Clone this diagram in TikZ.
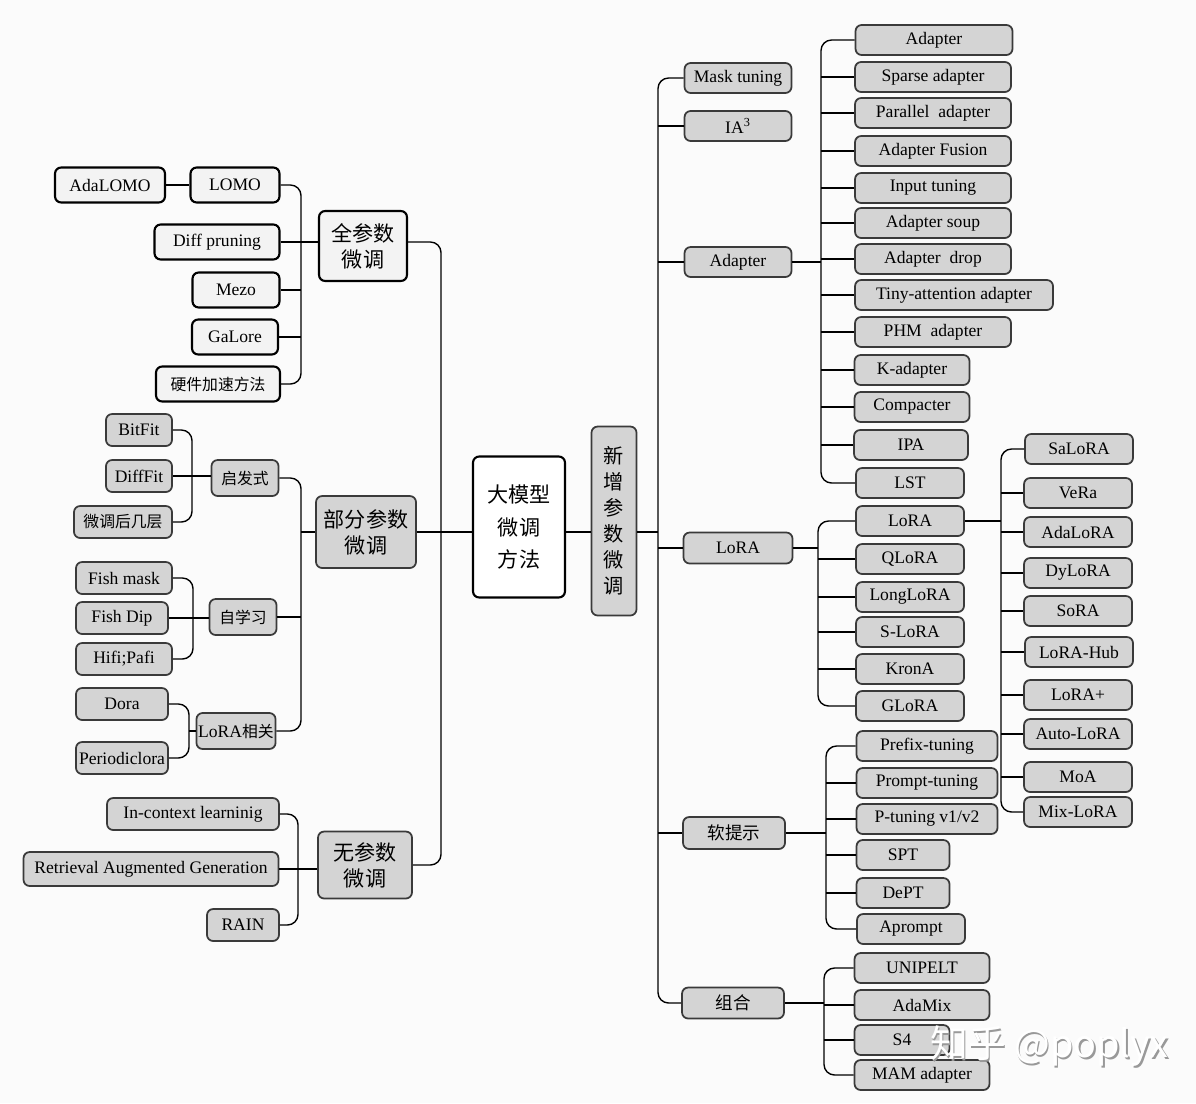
\documentclass[tikz,border=0pt]{standalone}
\usepackage{fontspec}
\setmainfont{Liberation Serif}
\newfontfamily\cjk{Noto Sans CJK SC}
\usepackage{tikz}
\definecolor{paper}{RGB}{251,251,251}
\definecolor{boxgray}{RGB}{212,212,212}
\definecolor{boxline}{RGB}{58,58,58}
\definecolor{boxwhite}{RGB}{243,243,243}

\begin{document}
\begin{tikzpicture}[x=0.02cm, y=-0.02cm,
    leaf/.style={draw=boxline, fill=boxgray, line width=1pt, rounded corners=3.5pt, minimum height=0.6cm, inner sep=1pt, font=\fontsize{10}{12}\selectfont},
    wleaf/.style={leaf, draw=black, fill=boxwhite, line width=1.2pt},
    hub/.style={align=center, font=\cjk\fontsize{12}{14.8}\selectfont},
    zh/.style={font=\cjk\fontsize{9}{11}\selectfont},
    link/.style={line width=0.8pt, rounded corners=6pt}]
    \fill[paper] (0,0) rectangle (1196,1103);
    \useasboundingbox (0,0) rectangle (1196,1103);

    % bus lines
    \coordinate (fullbus) at (301,0);
    \coordinate (partbus) at (301,0);
    \coordinate (heurbus) at (192,0);
    \coordinate (selfbus) at (193,0);
    \coordinate (lrbus) at (189,0);
    \coordinate (nonebus) at (298,0);
    \coordinate (ltrunk) at (441,0);
    \coordinate (rtrunk) at (658,0);
    \coordinate (adbus) at (821,0);
    \coordinate (lorabus) at (818,0);
    \coordinate (lvbus) at (1001,0);
    \coordinate (softbus) at (826,0);
    \coordinate (combobus) at (824,0);

    % centre
    \node[wleaf, hub, fill=white, minimum width=1.84cm, minimum height=2.82cm, font=\cjk\fontsize{12}{18.5}\selectfont] (core) at (519,527) {大模型\\微调\\方法};
    \node[leaf, hub, minimum width=0.9cm, minimum height=3.78cm, font=\cjk\fontsize{11.5}{14.8}\selectfont] (newp) at (614,521) {新\\增\\参\\数\\微\\调};

    % full parameter tuning
    \node[wleaf, hub, minimum width=1.76cm, minimum height=1.4cm] (full) at (363,246) {全参数\\微调};
    \node[wleaf, minimum width=2.2cm, minimum height=0.7cm] (adalomo) at (110,185) {AdaLOMO};
    \node[wleaf, minimum width=1.78cm, minimum height=0.7cm] (lomo) at (235,185) {LOMO};
    \node[wleaf, minimum width=2.5cm, minimum height=0.7cm] (diffp) at (217,242) {Diff pruning};
    \node[wleaf, minimum width=1.74cm, minimum height=0.7cm] (mezo) at (236,290) {Mezo};
    \node[wleaf, minimum width=1.72cm, minimum height=0.7cm] (galore) at (235,337) {GaLore};
    \node[wleaf, zh, minimum width=2.48cm, minimum height=0.7cm] (hwacc) at (218,384) {硬件加速方法};

    % partial parameter tuning
    \node[leaf, hub, minimum width=2cm, minimum height=1.44cm] (part) at (366,532) {部分参数\\微调};
    \node[leaf, zh, minimum width=1.34cm, minimum height=0.72cm] (heur) at (245,478) {启发式};
    \node[leaf, zh, minimum width=1.34cm, minimum height=0.72cm] (selfl) at (243,617) {自学习};
    \node[leaf, minimum width=1.58cm, minimum height=0.72cm] (lorarel) at (236,731) {LoRA{\cjk\fontsize{9}{11}\selectfont 相关}};
    \node[leaf, minimum width=1.32cm, minimum height=0.64cm] (bitfit) at (139,430) {BitFit};
    \node[leaf, minimum width=1.32cm, minimum height=0.64cm] (difffit) at (139,476) {DiffFit};
    \node[leaf, zh, minimum width=1.96cm, minimum height=0.64cm] (lastl) at (123,522) {微调后几层};
    \node[leaf, minimum width=1.92cm, minimum height=0.64cm] (fmask) at (124,578) {Fish mask};
    \node[leaf, minimum width=1.84cm, minimum height=0.64cm] (fdip) at (122,618) {Fish Dip};
    \node[leaf, minimum width=1.92cm, minimum height=0.64cm] (hifi) at (124,659) {Hifi;Pafi};
    \node[leaf, minimum width=1.84cm, minimum height=0.64cm] (dora) at (122,704) {Dora};
    \node[leaf, minimum width=1.84cm, minimum height=0.64cm] (periodic) at (122,758) {Periodiclora};

    % no parameter tuning
    \node[leaf, hub, minimum width=1.88cm, minimum height=1.34cm] (none) at (365,865) {无参数\\微调};
    \node[leaf, minimum width=3.44cm, minimum height=0.64cm] (icl) at (193,814) {In-context learninig};
    \node[leaf, minimum width=5.1cm, minimum height=0.68cm] (rag) at (151,869) {Retrieval Augmented Generation};
    \node[leaf, minimum width=1.44cm, minimum height=0.64cm] (rain) at (243,925) {RAIN};

    % added parameter tuning, first level
    \node[leaf, minimum width=2.14cm] (mask) at (738,78) {Mask tuning};
    \node[leaf, minimum width=2.14cm] (ia3) at (738,126) {IA\textsuperscript{3}};
    \node[leaf, minimum width=2.14cm] (adapt) at (738,262) {Adapter};
    \node[leaf, minimum width=2.18cm, minimum height=0.62cm] (lora) at (738,548) {LoRA};
    \node[leaf, zh, font=\cjk\fontsize{10}{12}\selectfont, minimum width=2.04cm, minimum height=0.64cm] (soft) at (734,833) {软提示};
    \node[leaf, zh, font=\cjk\fontsize{10}{12}\selectfont, minimum width=2.04cm, minimum height=0.62cm] (combo) at (733,1003) {组合};

    % adapter family
    \node[leaf, minimum width=3.14cm] (a1) at (934,40) {Adapter};
    \node[leaf, minimum width=3.12cm] (a2) at (933,77) {Sparse adapter};
    \node[leaf, minimum width=3.12cm] (a3) at (933,113) {Parallel\ \ adapter};
    \node[leaf, minimum width=3.12cm] (a4) at (933,151) {Adapter Fusion};
    \node[leaf, minimum width=3.12cm] (a5) at (933,188) {Input tuning};
    \node[leaf, minimum width=3.12cm] (a6) at (933,223) {Adapter soup};
    \node[leaf, minimum width=3.12cm] (a7) at (933,259) {Adapter\ \ drop};
    \node[leaf, minimum width=3.96cm] (a8) at (954,295) {Tiny-attention adapter};
    \node[leaf, minimum width=3.12cm] (a9) at (933,332) {PHM\ \ adapter};
    \node[leaf, minimum width=2.3cm] (a10) at (912,370) {K-adapter};
    \node[leaf, minimum width=2.3cm] (a11) at (912,407) {Compacter};
    \node[leaf, minimum width=2.28cm] (a12) at (911,445) {IPA};
    \node[leaf, minimum width=2.16cm] (a13) at (910,483) {LST};

    % lora family
    \node[leaf, minimum width=2.16cm] (l1) at (910,521) {LoRA};
    \node[leaf, minimum width=2.16cm] (l2) at (910,559) {QLoRA};
    \node[leaf, minimum width=2.16cm] (l3) at (910,597) {LongLoRA};
    \node[leaf, minimum width=2.16cm] (l4) at (910,632) {S-LoRA};
    \node[leaf, minimum width=2.16cm] (l5) at (910,669) {KronA};
    \node[leaf, minimum width=2.16cm] (l6) at (910,706) {GLoRA};

    \node[leaf, minimum width=2.16cm] (v1) at (1079,449) {SaLoRA};
    \node[leaf, minimum width=2.16cm] (v2) at (1078,493) {VeRa};
    \node[leaf, minimum width=2.16cm] (v3) at (1078,532) {AdaLoRA};
    \node[leaf, minimum width=2.16cm] (v4) at (1078,573) {DyLoRA};
    \node[leaf, minimum width=2.16cm] (v5) at (1078,611) {SoRA};
    \node[leaf, minimum width=2.16cm] (v6) at (1079,652) {LoRA-Hub};
    \node[leaf, minimum width=2.16cm] (v7) at (1078,695) {LoRA+};
    \node[leaf, minimum width=2.16cm] (v8) at (1078,734) {Auto-LoRA};
    \node[leaf, minimum width=2.16cm] (v9) at (1078,777) {MoA};
    \node[leaf, minimum width=2.16cm] (v10) at (1078,812) {Mix-LoRA};

    % soft prompts
    \node[leaf, minimum width=2.82cm] (s1) at (927,746) {Prefix-tuning};
    \node[leaf, minimum width=2.82cm] (s2) at (927,783) {Prompt-tuning};
    \node[leaf, minimum width=2.82cm] (s3) at (927,819) {P-tuning v1/v2};
    \node[leaf, minimum width=1.86cm] (s4) at (903,855) {SPT};
    \node[leaf, minimum width=1.86cm] (s5) at (903,893) {DePT};
    \node[leaf, minimum width=2.16cm] (s6) at (911,929) {Aprompt};

    % combinations
    \node[leaf, minimum width=2.7cm] (c1) at (922,968) {UNIPELT};
    \node[leaf, minimum width=2.7cm] (c2) at (922,1005) {AdaMix};
    \node[leaf, minimum width=1.9cm] (c3) at (902,1040) {S4};
    \node[leaf, minimum width=2.7cm] (c4) at (922,1075) {MAM adapter};

    % links, left side
    \draw[line width=1.2pt] (adalomo) -- (lomo);
    \draw[link] (lomo.east) -| (fullbus |- hwacc.east) -- (hwacc.east);
    \draw[link] (diffp.east) -- (diffp.east -| full.west);
    \foreach \n in {mezo,galore} \draw[link] (\n.east) -- (\n.east -| fullbus);
    \draw[link] (heur.east) -| (partbus |- lorarel.east) -- (lorarel.east);
    \draw[link] (selfl.east) -- (selfl.east -| partbus);
    \draw[link] (part.west) -- (part.west -| partbus);
    \draw[link] (bitfit.east) -| (heurbus |- lastl.east) -- (lastl.east);
    \draw[link] (difffit.east) -- (difffit.east -| heur.west);
    \draw[link] (fmask.east) -| (selfbus |- hifi.east) -- (hifi.east);
    \draw[link] (fdip.east) -- (fdip.east -| selfl.west);
    \draw[link] (dora.east) -| (lrbus |- periodic.east) -- (periodic.east);
    \draw[link] (lorarel.west) -- (lorarel.west -| lrbus);
    \draw[link] (icl.east) -| (nonebus |- rain.east) -- (rain.east);
    \draw[link] (rag.east) -- (rag.east -| none.west);
    \draw[link] (full.east |- diffp.east) -| (ltrunk |- none.east) -- (none.east);

    % links, centre
    \draw[link] (part.east) -- (part.east -| core.west);
    \draw[link] (core.east |- part.east) -- (newp.west |- part.east);
    \draw[link] (newp.east |- part.east) -- (rtrunk |- part.east);

    % links, right side
    \draw[link] (mask.west) -| (rtrunk |- combo.west) -- (combo.west);
    \foreach \n in {ia3,adapt,lora,soft} \draw[link] (\n.west) -- (\n.west -| rtrunk);
    \draw[link] (a1.west) -| (adbus |- a13.west) -- (a13.west);
    \foreach \n in {a2,a3,a4,a5,a6,a7,a8,a9,a10,a11,a12} \draw[link] (\n.west) -- (\n.west -| adbus);
    \draw[link] (adapt.east) -- (adapt.east -| adbus);
    \draw[link] (l1.west) -| (lorabus |- l6.west) -- (l6.west);
    \foreach \n in {l2,l3,l4,l5} \draw[link] (\n.west) -- (\n.west -| lorabus);
    \draw[link] (lora.east) -- (lora.east -| lorabus);
    \draw[link] (v1.west) -| (lvbus |- v10.west) -- (v10.west);
    \foreach \n in {v2,v3,v4,v5,v6,v7,v8,v9} \draw[link] (\n.west) -- (\n.west -| lvbus);
    \draw[link] (l1.east) -- (l1.east -| lvbus);
    \draw[link] (s1.west) -| (softbus |- s6.west) -- (s6.west);
    \foreach \n in {s2,s3,s4,s5} \draw[link] (\n.west) -- (\n.west -| softbus);
    \draw[link] (soft.east) -- (soft.east -| softbus);
    \draw[link] (c1.west) -| (combobus |- c4.west) -- (c4.west);
    \foreach \n in {c2,c3} \draw[link] (\n.west) -- (\n.west -| combobus);
    \draw[link] (combo.east) -- (combo.east -| combobus);

    % watermark, a grey shadow under white letters
    \node[text=black!40, font=\cjk\fontsize{21.5}{24}\selectfont] (mark) at (1051,1048) {知乎\ @poplyx};
    \node[text=white, font=\cjk\fontsize{21.5}{24}\selectfont] (markhi) at ([shift={(-1.5,-1.5)}]mark.center) {知乎\ @poplyx};
\end{tikzpicture}
\end{document}
